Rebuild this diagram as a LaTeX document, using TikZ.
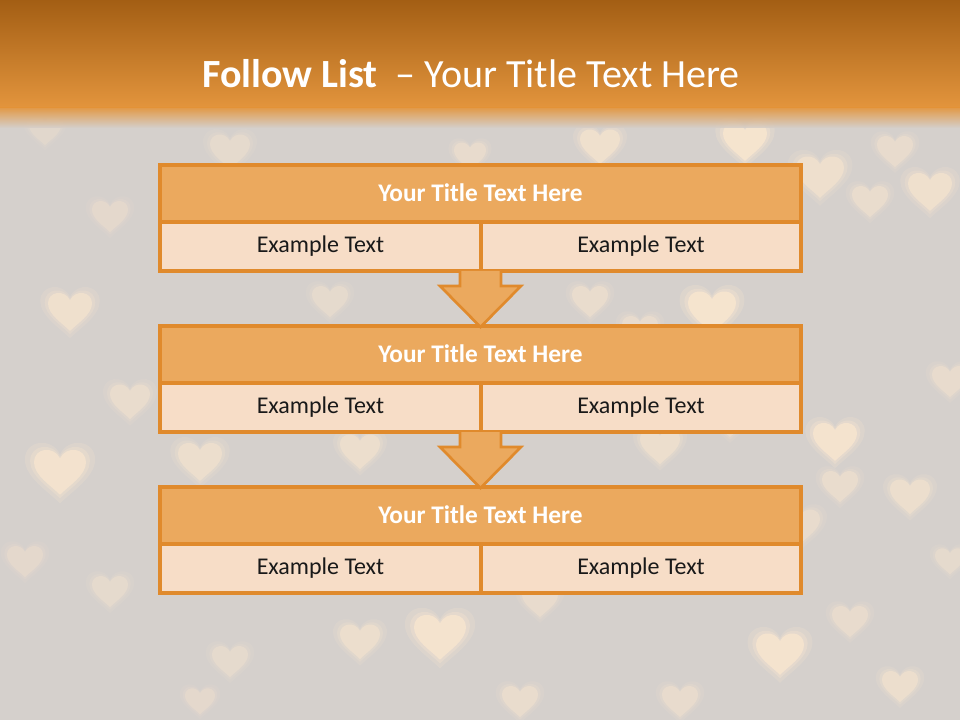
\documentclass[tikz,border=0pt]{standalone}
\usepackage{fontspec}
\setmainfont{Carlito}
\begin{document}
\begin{tikzpicture}[x=0.75pt,y=-0.75pt,
  boxline/.style={draw=orBorder,line width=2.4pt},
  ttext/.style={text=white,font=\fontsize{19}{22}\selectfont\bfseries},
  etext/.style={text=black!90,font=\fontsize{18}{21}\selectfont},
  blockarrow/.style={draw=orBorder,fill=orTitle,line width=2pt,line join=miter}
]
\definecolor{orBorder}{HTML}{E08A2C}
\definecolor{orTitle}{HTML}{EBA95E}
\definecolor{orLight}{HTML}{F7DDC7}
\definecolor{bgGray}{HTML}{D5D0CC}
\definecolor{hdTop}{HTML}{A35E14}
\definecolor{hdBot}{HTML}{E3953D}
\definecolor{heartCol}{HTML}{FFEAD0}
\useasboundingbox (0,0) rectangle (960,720);
\fill[bgGray] (0,0) rectangle (960,720);
% soft hearts of the background photo
\newcommand{\hrtpath}{(0,-0.95) .. controls (-0.35,-0.6) and (-1,-0.2) .. (-1,0.3)
     .. controls (-1,0.85) and (-0.25,0.95) .. (0,0.45)
     .. controls (0.25,0.95) and (1,0.85) .. (1,0.3)
     .. controls (1,-0.2) and (0.35,-0.6) .. (0,-0.95) -- cycle}
\newcommand{\hrt}[4]{%
  \begin{scope}[shift={(#1,#2)},x=#3*0.75pt,y=#3*0.75pt]
  \fill[heartCol,opacity=#4*0.25,scale=1.35] \hrtpath;
  \fill[heartCol,opacity=#4*0.35,scale=1.15] \hrtpath;
  \fill[heartCol,opacity=#4*0.8] \hrtpath;
  \end{scope}}
\begin{scope}
\clip (0,0) rectangle (960,720);
\foreach \hx/\hy/\hs/\ho in {745/140/22/0.8,820/175/24/0.55,870/200/18/0.45,930/190/22/0.6,895/150/18/0.4,
  600/145/20/0.6,470/155/16/0.4,230/150/20/0.35,45/130/16/0.25,110/215/18/0.3,70/310/22/0.6,
  130/400/20/0.45,60/470/26/0.7,200/460/22/0.5,110/590/18/0.35,360/450/20/0.5,440/635/26/0.75,
  360/640/20/0.5,230/660/18/0.35,540/600/18/0.4,620/565/20/0.45,712/310/24/0.8,730/420/18/0.4,
  835/440/22/0.75,840/485/18/0.45,910/495/20/0.5,800/525/20/0.4,850/620/18/0.4,780/652/24/0.75,
  900/685/18/0.5,950/560/15/0.35,590/300/18/0.45,640/330/18/0.4,330/300/18/0.35,660/445/20/0.5,
  200/700/15/0.3,25/560/18/0.3,300/560/16/0.3,950/380/18/0.4,520/700/18/0.45,680/700/18/0.4}
  {\hrt{\hx}{\hy}{\hs}{\ho}}
\end{scope}
% header band
\shade[top color=hdTop,bottom color=hdBot] (0,0) rectangle (960,108);
\shade[top color=hdBot,bottom color=bgGray,opacity=0.9] (0,108) rectangle (960,128);
\node[text=white,font=\fontsize{30}{34}\selectfont,anchor=base] (title) at (471,88)
  {\textbf{Follow List}\ \ – Your Title Text Here};
% three list blocks
\foreach \i/\ty in {1/165,2/326,3/487}{
  \coordinate (b\i tl) at (160,\ty);
  \coordinate (b\i tr) at (801,\ty+57);
  \fill[orLight] (160,\ty+57) rectangle (801,\ty+106);
  \draw[boxline] (160,\ty+57) rectangle (481,\ty+106);
  \draw[boxline] (481,\ty+57) rectangle (801,\ty+106);
  \draw[boxline,fill=orTitle] (b\i tl) rectangle (b\i tr);
  \node[ttext] (t\i) at (480.5,\ty+28) {Your Title Text Here};
  \node[etext] (l\i) at (320.5,\ty+81) {Example Text};
  \node[etext] (r\i) at (641,\ty+81) {Example Text};
}
% block arrows between the blocks
\foreach \s/\e in {271/327,432/488}{
  \draw[blockarrow] (460,\s) -- (460,\s+15) -- (440,\s+15) -- (480.5,\e) -- (521,\s+15) -- (501,\s+15) -- (501,\s);
}
\end{tikzpicture}
\end{document}
